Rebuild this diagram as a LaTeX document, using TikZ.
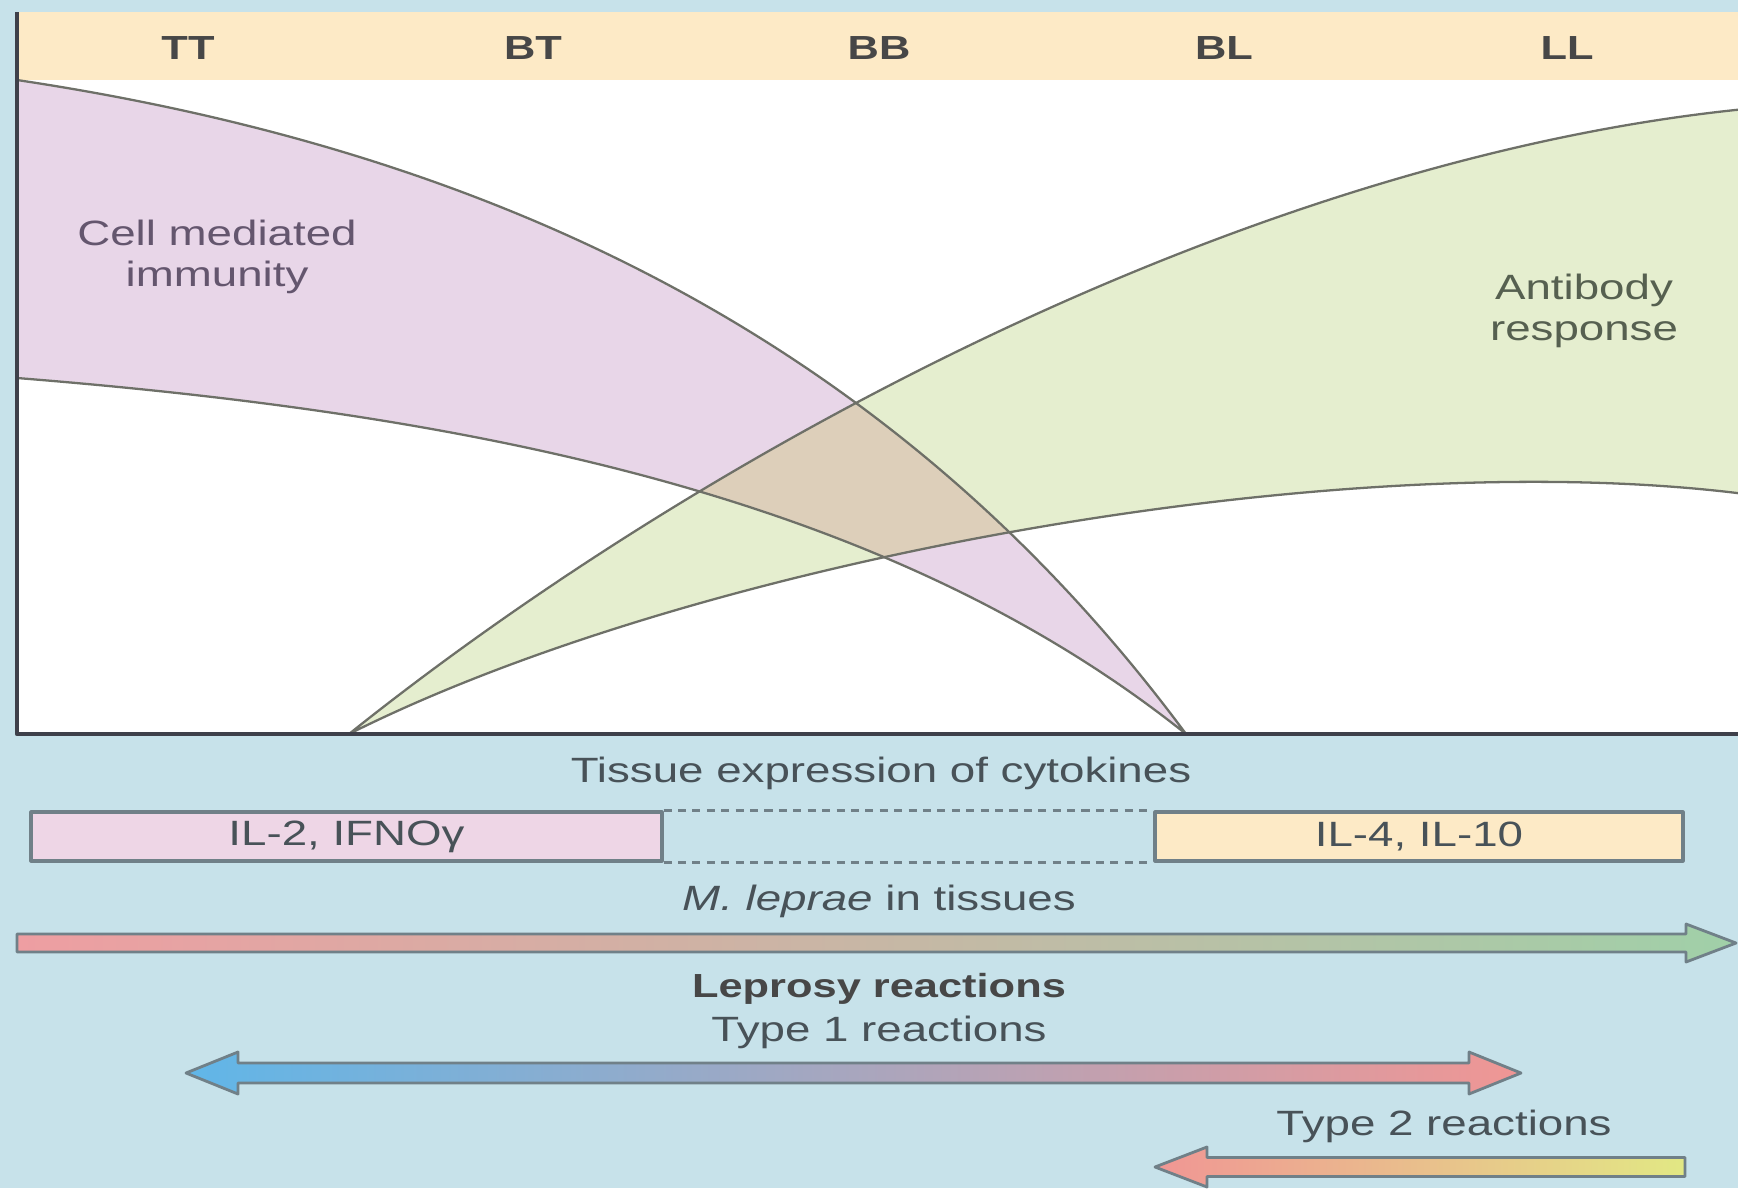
\documentclass[tikz,border=0pt]{standalone}
\usepackage{fontspec}
\setmainfont[FakeStretch=1.3]{Liberation Sans}
\usepackage{xcolor}

\begin{document}
\begin{tikzpicture}[line join=round]

    % style
    \definecolor{mybg}{RGB}{199, 226, 234}
    \definecolor{mybeige}{RGB}{253, 234, 198}
    \definecolor{mypink}{RGB}{232, 214, 232}
    \definecolor{mygreen}{RGB}{229, 238, 207}
    \definecolor{mytan}{RGB}{221, 207, 186}
    \definecolor{myline}{RGB}{110, 112, 104}
    \definecolor{myaxis}{RGB}{62, 64, 74}
    \definecolor{mytext}{RGB}{72, 82, 88}
    \definecolor{myboxpink}{RGB}{238, 214, 230}
    \definecolor{myrose}{RGB}{238, 158, 162}
    \definecolor{mymint}{RGB}{160, 208, 168}
    \definecolor{mysky}{RGB}{96, 182, 232}
    \definecolor{mysalmon}{RGB}{240, 150, 148}
    \definecolor{mylime}{RGB}{226, 232, 132}
    \definecolor{myarrowline}{RGB}{112, 128, 136}
    \tikzset{
        spectrum/.style={font=\fontsize{9.5}{11}\selectfont\bfseries, text=black!72},
        bandlabel/.style={font=\fontsize{10}{11.7}\selectfont, align=center},
        caption/.style={font=\fontsize{10}{12}\selectfont, text=mytext},
        cytobox/.style={draw=myarrowline, line width=0.9pt, minimum height=0.49cm, inner sep=0pt, font=\fontsize{10}{12}\selectfont, text=mytext},
        curve/.style={draw=myline, line width=0.65pt},
        fatarrow/.style={draw=myarrowline, line width=0.8pt}
    }

    % background for entire figure
    \fill [mybg] (0,0) rectangle (17.38,11.88);
    \useasboundingbox (0,0) rectangle (17.38,11.88);

    % reference coordinates
    \coordinate (Origin) at (0.17,4.54);
    \coordinate (AxisTop) at (0.17,11.76);
    \coordinate (AxisEnd) at (17.38,4.54);

    % spectrum heading and plot area
    \fill [mybeige] (0.17,11.08) rectangle (17.38,11.76);
    \fill [white] (Origin) rectangle (17.38,11.08);
    \foreach \x/\lbl in {1.88/TT, 5.33/BT, 8.79/BB, 12.24/BL, 15.67/LL}
        \node [spectrum] (\lbl) at (\x,11.40) {\lbl};

    % bands
    \def\cmiband{(0.17,11.08) .. controls (5.17,10.33) and (9.06,8.32) .. (11.86,4.54) .. controls (8.86,6.94) and (4.67,7.74) .. (0.17,8.10) -- cycle}
    \def\abband{(3.49,4.54) .. controls (6.99,7.34) and (12.45,10.29) .. (17.45,10.79) -- (17.45,6.94) .. controls (13.45,7.45) and (7.0,6.3) .. (3.49,4.54) -- cycle}
    \fill [mypink] \cmiband;
    \fill [mygreen] \abband;
    \begin{scope}
    \clip \cmiband;
    \fill [mytan] \abband;
    \end{scope}
    \draw [curve] \cmiband;
    \draw [curve] \abband;
    \node [bandlabel, text={rgb,255:red,100;green,86;blue,110}] (cmi) at (2.17,9.31) {Cell mediated\\immunity};
    \node [bandlabel, text={rgb,255:red,86;green,96;blue,80}] (antibody) at (15.84,8.77) {Antibody\\response};

    % axes
    \draw [myaxis, line width=1.2pt] (AxisTop) -- (Origin) -- (AxisEnd);

    % cytokines
    \node [caption] (tissue) at (8.81,4.15) {Tissue expression of cytokines};
    \node [cytobox, fill=myboxpink, minimum width=6.31cm] (thone) at (3.465,3.515) {IL-2, IFNOγ};
    \node [cytobox, fill=mybeige, minimum width=5.28cm] (thtwo) at (14.19,3.515) {IL-4, IL-10};
    \draw [draw=myarrowline, line width=0.9pt, dash pattern=on 2.3pt off 1.8pt] (thone.north east) -- (thtwo.north west);
    \draw [draw=myarrowline, line width=0.9pt, dash pattern=on 2.3pt off 1.8pt] (thone.south east) -- (thtwo.south west);

    % bacilli in tissues
    \node [caption] (bacilli) at (8.79,2.87) {\itshape M. leprae\upshape\ in tissues};
    \coordinate (BacL) at (0.17,2.45);
    \coordinate (BacR) at (17.36,2.45);
    \shadedraw [fatarrow, left color=myrose, right color=mymint] ([shift={(0,0.09)}]BacL) -- ([shift={(-0.5,0.09)}]BacR) -- ([shift={(-0.5,0.19)}]BacR) -- (BacR) -- ([shift={(-0.5,-0.19)}]BacR) -- ([shift={(-0.5,-0.09)}]BacR) -- ([shift={(0,-0.09)}]BacL) -- cycle;

    % reactions
    \node [caption, font=\fontsize{9.5}{12}\selectfont\bfseries, text=black!72] (reactions) at (8.79,1.99) {Leprosy reactions};
    \node [caption] (typeone) at (8.79,1.56) {Type 1 reactions};
    \coordinate (OneL) at (1.86,1.15);
    \coordinate (OneR) at (15.21,1.15);
    \shadedraw [fatarrow, left color=mysky, right color=mysalmon] (OneL) -- ([shift={(0.52,0.21)}]OneL) -- ([shift={(0.52,0.10)}]OneL) -- ([shift={(-0.52,0.10)}]OneR) -- ([shift={(-0.52,0.21)}]OneR) -- (OneR) -- ([shift={(-0.52,-0.21)}]OneR) -- ([shift={(-0.52,-0.10)}]OneR) -- ([shift={(0.52,-0.10)}]OneL) -- ([shift={(0.52,-0.21)}]OneL) -- cycle;

    \node [caption] (typetwo) at (14.44,0.62) {Type 2 reactions};
    \coordinate (TwoL) at (11.55,0.21);
    \coordinate (TwoR) at (16.85,0.21);
    \shadedraw [fatarrow, left color=mysalmon, right color=mylime] (TwoL) -- ([shift={(0.52,0.2)}]TwoL) -- ([shift={(0.52,0.095)}]TwoL) -- ([shift={(0,0.095)}]TwoR) -- ([shift={(0,-0.095)}]TwoR) -- ([shift={(0.52,-0.095)}]TwoL) -- ([shift={(0.52,-0.2)}]TwoL) -- cycle;

\end{tikzpicture}
\end{document}
